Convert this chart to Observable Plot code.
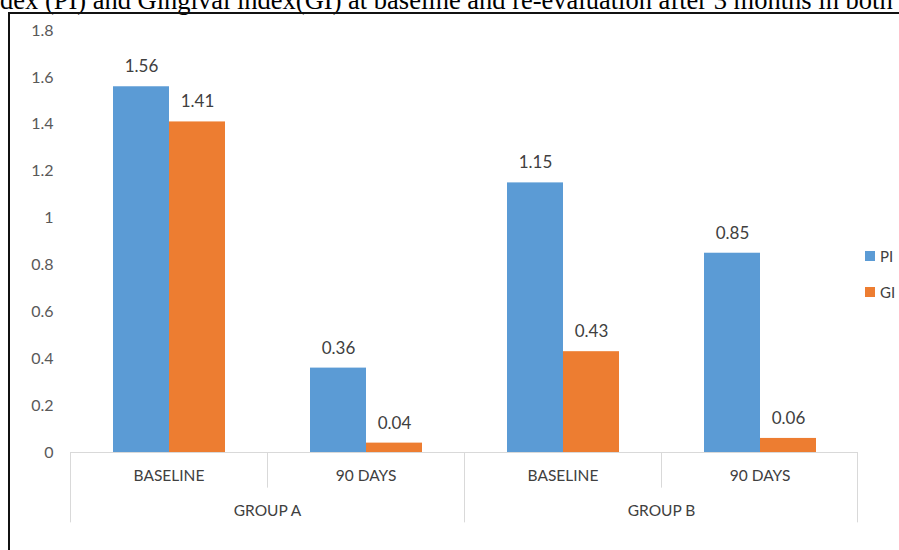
<!DOCTYPE html>
<html>
<head>
<meta charset="utf-8">
<script src="https://cdn.jsdelivr.net/npm/d3@7"></script>
<script src="https://cdn.jsdelivr.net/npm/@observablehq/plot@0.6"></script>
<style>
  html, body { margin: 0; padding: 0; background: #fff; overflow: hidden; }
  #wrap { position: relative; width: 899px; height: 550px; overflow: hidden; background: #fff; }
  #title { position: absolute; left: 0; top: -15px; white-space: nowrap; font-family: "Liberation Serif", "DejaVu Serif", serif; font-size: 26.5px; color: #000; line-height: normal; }
  #border { position: absolute; left: 8px; top: 12px; width: 1000px; height: 1000px; border-top: 2px solid #111; border-left: 2px solid #111; }
  #chart { position: absolute; left: 0; top: 0; }
  #legend { position: absolute; left: 865px; top: 247px; font-family: Lato, "Open Sans", sans-serif; font-size: 15px; color: #404040; }
  .row { display: flex; align-items: center; height: 18px; margin-bottom: 18px; }
  .sw { width: 10px; height: 10px; margin-right: 5px; }
</style>
</head>
<body>
<div id="wrap">
  <div id="title">dex (PI) and Gingival index(GI) at baseline and re-evaluation after 3 months in both</div>
  <div id="border"></div>
  <div id="chart"></div>
  <div id="legend"></div>
</div>
<script>
// ---- data ----
const groups  = ["GROUP A", "GROUP A", "GROUP B", "GROUP B"];
const periods = ["BASELINE", "90 DAYS", "BASELINE", "90 DAYS"];
const series  = ["PI", "GI"];
const piValues = [1.56, 0.36, 1.15, 0.85];
const giValues = [1.41, 0.04, 0.43, 0.06];
const yTicks = [0, 0.2, 0.4, 0.6, 0.8, 1, 1.2, 1.4, 1.6, 1.8];
const colors = ["#5B9BD5", "#ED7D31"];

// ---- derived tables ----
const cats = groups.map((g, i) => ({
  key: g + "|" + periods[i], group: g, period: periods[i],
  firstInGroup: i === 0 || groups[i - 1] !== g,
  last: i === groups.length - 1
}));
const rows = [];
cats.forEach((c, i) => {
  rows.push({key: c.key, series: "PI", value: piValues[i]});
  rows.push({key: c.key, series: "GI", value: giValues[i]});
});

const W = 899, H = 550;
const ml = 70, mr = 41, mt = 30, mb = 98;
const facetW = (W - ml - mr) / cats.length;
const catDepth = -0.152, groupDepth = -0.3; // y-units below the baseline for separators
const sepColor = "#d9d9d9";

const chart = Plot.plot({
  width: W, height: H,
  marginLeft: ml, marginRight: mr, marginTop: mt, marginBottom: mb,
  style: {fontFamily: "Lato, 'Open Sans', sans-serif", background: "transparent", overflow: "visible"},
  fx: {domain: cats.map(c => c.key), padding: 0, axis: null},
  x: {domain: series, paddingInner: 0, paddingOuter: 0.73, axis: null},
  y: {domain: [0, 1.8], axis: null},
  color: {domain: series, range: colors},
  marks: [
    Plot.barY(rows, {fx: "key", x: "series", y: "value", fill: "series"}),
    Plot.ruleY([0], {stroke: sepColor, strokeWidth: 1}),
    // left separators of each category
    Plot.rect(cats, {fx: "key", y1: 0, y2: d => d.firstInGroup ? groupDepth : catDepth,
      fill: sepColor, insetRight: facetW - 1}),
    // closing separator at the right end
    Plot.rect(cats.filter(c => c.last), {fx: "key", y1: 0, y2: groupDepth,
      fill: sepColor, insetLeft: facetW - 1}),
    Plot.text(rows, {fx: "key", x: "series", y: "value", text: d => d.value.toFixed(2),
      dy: -20, fontSize: 17, fill: "#404040"}),
    Plot.text(cats, {fx: "key", text: "period", frameAnchor: "bottom", lineAnchor: "middle", dy: 24,
      fontSize: 15.5, fill: "#404040"}),
    Plot.text(cats.filter(c => !c.firstInGroup), {fx: "key", text: "group", frameAnchor: "bottom-left",
      lineAnchor: "middle", textAnchor: "middle", dy: 59, fontSize: 15.5, fill: "#404040"}),
    Plot.axisY(yTicks, {tickFormat: d3.format("~g"), tickSize: 0, tickPadding: 17, label: null,
      fontSize: 16, fill: "#595959", color: "#595959"})
  ]
});
document.getElementById("chart").appendChild(chart);

// legend
const lg = document.getElementById("legend");
series.forEach((s, i) => {
  const r = document.createElement("div");
  r.className = "row";
  r.innerHTML = `<div class="sw" style="background:${colors[i]}"></div><span>${s}</span>`;
  lg.appendChild(r);
});
</script>
</body>
</html>
